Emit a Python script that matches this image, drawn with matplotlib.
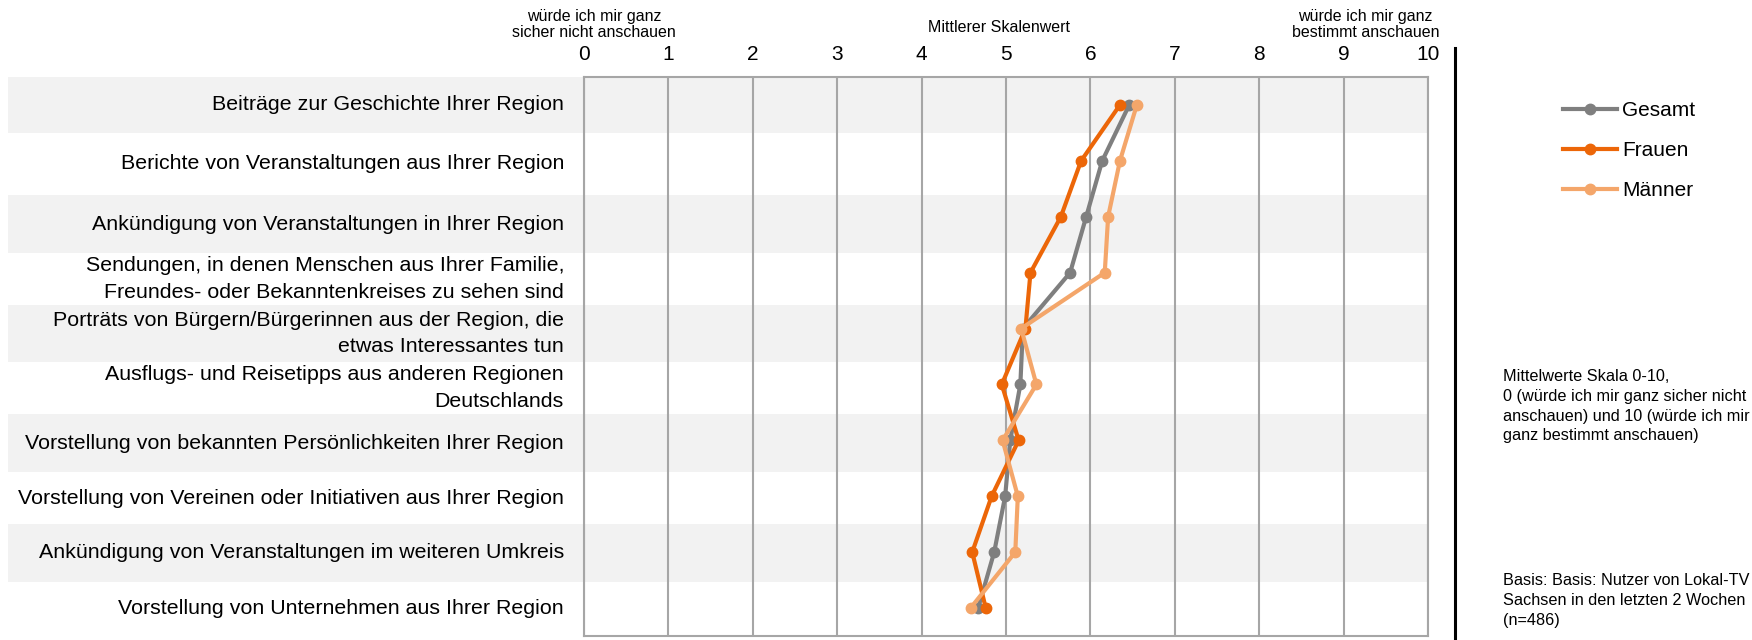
import matplotlib
matplotlib.use('Agg')
import matplotlib.pyplot as plt
import matplotlib.transforms as mtransforms
from matplotlib.lines import Line2D
from matplotlib.patches import Rectangle

plt.rcParams['font.family'] = ['Liberation Sans', 'DejaVu Sans']

CATEGORIES = [
    'Beiträge zur Geschichte Ihrer Region',
    'Berichte von Veranstaltungen aus Ihrer Region',
    'Ankündigung von Veranstaltungen in Ihrer Region',
    'Sendungen, in denen Menschen aus Ihrer Familie,\nFreundes- oder Bekanntenkreises zu sehen sind',
    'Porträts von Bürgern/Bürgerinnen aus der Region, die\netwas Interessantes tun',
    'Ausflugs- und Reisetipps aus anderen Regionen\nDeutschlands',
    'Vorstellung von bekannten Persönlichkeiten Ihrer Region',
    'Vorstellung von Vereinen oder Initiativen aus Ihrer Region',
    'Ankündigung von Veranstaltungen im weiteren Umkreis',
    'Vorstellung von Unternehmen aus Ihrer Region',
]
GESAMT = [6.46, 6.14, 5.95, 5.76, 5.20, 5.17, 5.05, 4.99, 4.86, 4.67]
FRAUEN = [6.35, 5.89, 5.65, 5.29, 5.23, 4.95, 5.15, 4.83, 4.60, 4.76]
MAENNER = [6.55, 6.35, 6.21, 6.17, 5.18, 5.36, 4.96, 5.14, 5.11, 4.58]
SERIES = ['Gesamt', 'Frauen', 'Männer']
COLORS = ['#7f7f7f', '#ec6608', '#f4a66a']
TICKS = list(range(11))

LEFT_NOTE = 'würde ich mir ganz\nsicher nicht anschauen'
MID_NOTE = 'Mittlerer Skalenwert'
RIGHT_NOTE = 'würde ich mir ganz\nbestimmt anschauen'
SCALE_NOTE = ('Mittelwerte Skala 0-10,\n0 (würde ich mir ganz sicher nicht\n'
              'anschauen) und 10 (würde ich mir\nganz bestimmt anschauen)')
BASE_NOTE = 'Basis: Basis: Nutzer von Lokal-TV\nSachsen in den letzten 2 Wochen\n(n=486)'

# row band edges (in row units), table rows are not all the same height
BAND_EDGES = [-0.5, 0.5, 1.61, 2.65, 3.58, 4.6, 5.53, 6.57, 7.5, 8.53, 9.5]

W, H = 1752, 640
fig = plt.figure(figsize=(W / 100, H / 100), dpi=100)
ax = fig.add_axes([584 / W, 4 / H, (1428 - 584) / W, (636 - 77) / H])

ax.set_xlim(0, 10)
ax.set_ylim(9.5, -0.5)
ax.xaxis.tick_top()
ax.set_xticks(TICKS)
ax.set_yticks([])
ax.tick_params(axis='x', length=0, pad=9, labelsize=15)
ax.grid(axis='x', color='#a6a6a6', lw=1.5)
for sp in ax.spines.values():
    sp.set_color('#a6a6a6')
    sp.set_linewidth(1.5)

band_tr = mtransforms.blended_transform_factory(fig.transFigure, ax.transData)
for i in range(len(CATEGORIES)):
    top, bot = BAND_EDGES[i], BAND_EDGES[i + 1]
    if i % 2 == 0:
        ax.add_patch(Rectangle((8 / W, top), (1428 - 8) / W, bot - top, transform=band_tr,
                               facecolor='#f2f2f2', edgecolor='none', zorder=0.5, clip_on=False))
    ax.text(564 / W, (top + bot) / 2, CATEGORIES[i], transform=band_tr, ha='right', va='center',
            fontsize=15.4, linespacing=1.48)

rows = list(range(len(CATEGORIES)))
for name, vals, col in zip(SERIES, [GESAMT, FRAUEN, MAENNER], COLORS):
    ax.plot(vals, rows, color=col, lw=3, marker='o', ms=7.5, label=name, zorder=3, clip_on=False)

top_tr = mtransforms.blended_transform_factory(ax.transData, fig.transFigure)
ax.text(0.12, 1 - 24.5 / H, LEFT_NOTE, transform=top_tr, ha='center', va='center',
        fontsize=11.5, linespacing=1.09)
ax.text(4.92, 1 - 27 / H, MID_NOTE, transform=top_tr, ha='center', va='center', fontsize=11.5)
ax.text(9.26, 1 - 24.5 / H, RIGHT_NOTE, transform=top_tr, ha='center', va='center',
        fontsize=11.5, linespacing=1.09)

fig.add_artist(Line2D([1455 / W, 1455 / W], [0, 1 - 48 / H], color='black', lw=2.2))

fig.legend(loc='upper left', bbox_to_anchor=(1563 / W, 1 - 101 / H), frameon=False,
           fontsize=15, handlelength=2.6, handletextpad=0.25, labelspacing=1.02,
           borderpad=0, borderaxespad=0)

fig.text(1503 / W, 1 - 369 / H, SCALE_NOTE, va='top', fontsize=11.7, linespacing=1.4)
fig.text(1503 / W, 1 - 573 / H, BASE_NOTE, va='top', fontsize=11.7, linespacing=1.4)

fig.savefig('out.png', dpi=100)
